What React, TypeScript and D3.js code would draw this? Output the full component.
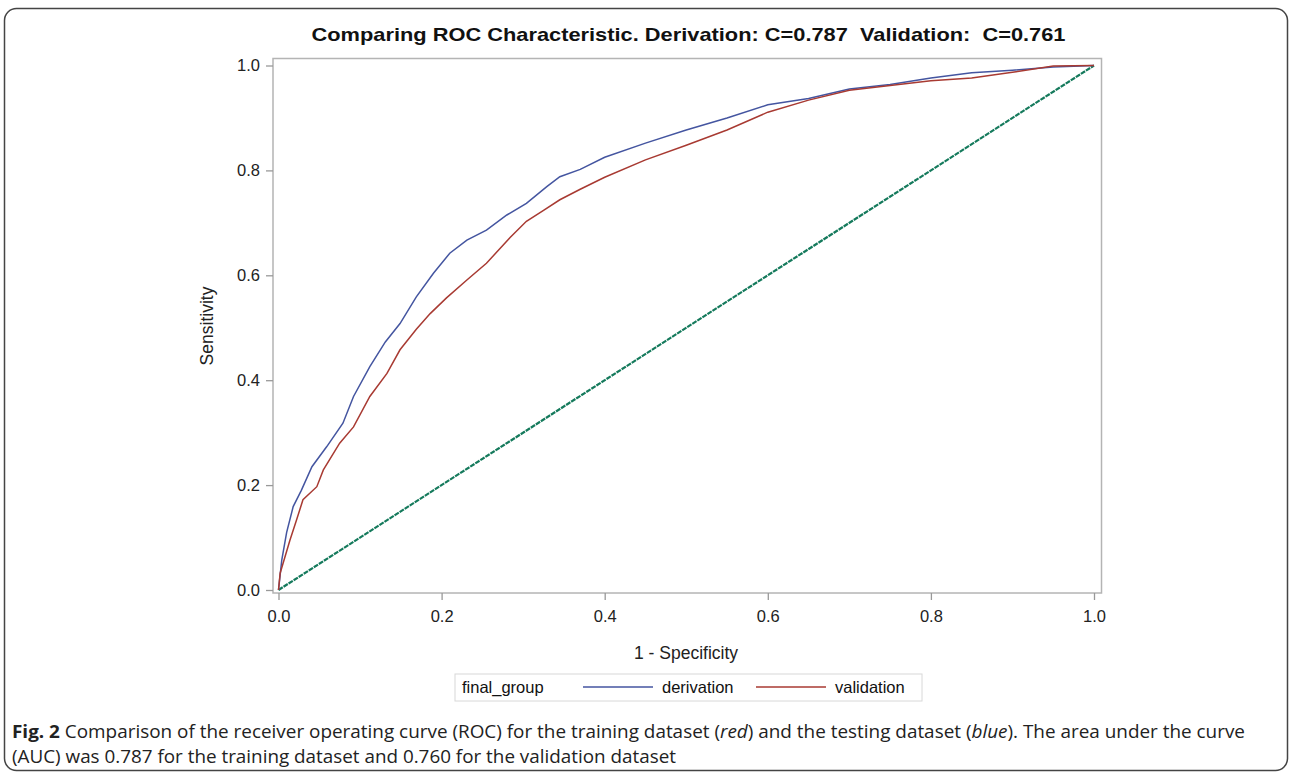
import * as d3 from "d3";
import { useEffect, useRef } from "react";

// ROC points: [1 - specificity, sensitivity]
const derivationFpr = [0, 0.004, 0.01, 0.018, 0.028, 0.041, 0.059, 0.079, 0.092, 0.112, 0.131, 0.149, 0.169, 0.19, 0.21, 0.231, 0.255, 0.28, 0.304, 0.329, 0.345, 0.37, 0.4, 0.45, 0.5, 0.55, 0.6, 0.65, 0.7, 0.75, 0.8, 0.85, 0.9, 0.95, 1];
const derivationTpr = [0, 0.057, 0.11, 0.159, 0.19, 0.235, 0.273, 0.318, 0.369, 0.426, 0.473, 0.508, 0.559, 0.604, 0.642, 0.667, 0.686, 0.715, 0.737, 0.769, 0.788, 0.802, 0.825, 0.852, 0.877, 0.9, 0.925, 0.937, 0.955, 0.964, 0.976, 0.986, 0.991, 0.997, 1];

const validationFpr = [0, 0.002, 0.014, 0.022, 0.03, 0.047, 0.055, 0.075, 0.092, 0.112, 0.133, 0.149, 0.169, 0.186, 0.206, 0.231, 0.255, 0.284, 0.304, 0.325, 0.345, 0.37, 0.4, 0.45, 0.5, 0.55, 0.6, 0.65, 0.7, 0.75, 0.8, 0.85, 0.9, 0.95, 1];
const validationTpr = [0, 0.032, 0.095, 0.133, 0.172, 0.197, 0.229, 0.28, 0.311, 0.369, 0.413, 0.458, 0.497, 0.527, 0.557, 0.591, 0.623, 0.672, 0.703, 0.724, 0.744, 0.764, 0.787, 0.82, 0.848, 0.877, 0.911, 0.934, 0.953, 0.962, 0.971, 0.976, 0.987, 0.999, 1];

const diagonal = [0, 1];
const ticks = [0, 0.2, 0.4, 0.6, 0.8, 1.0];

const title = "Comparing ROC Characteristic. Derivation: C=0.787  Validation:  C=0.761";
const legendTitle = "final_group";
const groups = ["derivation", "validation"];
const colors = ["#4455a0", "#a83a32"];

const App = () => {
  const svgRef = useRef<SVGSVGElement>(null);
  const width = 1292;
  const height = 774;

  useEffect(() => {
    const svg = d3.select(svgRef.current);
    svg.selectAll("*").remove();
    const font = "Liberation Sans, Arial, sans-serif";

    const x = d3.scaleLinear().domain([0, 1]).range([278.5, 1094]);
    const y = d3.scaleLinear().domain([0, 1]).range([590, 65.5]);

    // outer figure border
    svg.append("rect").attr("x", 4.5).attr("y", 8.5).attr("width", 1283).attr("height", 762)
      .attr("rx", 12).attr("fill", "white").attr("stroke", "#444").attr("stroke-width", 1.5);

    svg.append("text").text(title).attr("x", 688.5).attr("y", 41).attr("text-anchor", "middle")
      .style("white-space", "pre")
      .attr("font-family", font).attr("font-weight", "bold").attr("font-size", 18.5)
      .attr("textLength", 754).attr("lengthAdjust", "spacingAndGlyphs").attr("fill", "#111");

    // plot frame
    svg.append("rect").attr("x", 273).attr("y", 58.5).attr("width", 828.5).attr("height", 534.5)
      .attr("fill", "none").attr("stroke", "#b4b4b4").attr("stroke-width", 1.5);

    const yAxis = d3.axisLeft(y).tickValues(ticks).tickFormat(d3.format(".1f")).tickSize(7).tickPadding(6);
    const gy = svg.append("g").attr("transform", "translate(273,0)").call(yAxis);
    const xAxis = d3.axisBottom(x).tickValues(ticks).tickFormat(d3.format(".1f")).tickSize(7).tickPadding(10);
    const gx = svg.append("g").attr("transform", "translate(0,593)").call(xAxis);
    [gx, gy].forEach(g => {
      g.select(".domain").remove();
      g.selectAll("line").attr("stroke", "#999").attr("stroke-width", 1.3);
      g.selectAll("text").attr("font-family", font).attr("font-size", 16.5).attr("fill", "#222");
    });

    svg.append("text").text("1 - Specificity").attr("x", 686).attr("y", 659).attr("text-anchor", "middle")
      .attr("font-family", font).attr("font-size", 17.5).attr("fill", "#222");
    svg.append("text").text("Sensitivity").attr("transform", "translate(213,326) rotate(-90)").attr("text-anchor", "middle")
      .attr("font-family", font).attr("font-size", 17.5).attr("fill", "#222");

    const line = d3.line<[number, number]>().x(d => x(d[0])).y(d => y(d[1]));

    svg.append("path").attr("d", line(diagonal.map(v => [v, v]) as [number, number][]))
      .attr("fill", "none").attr("stroke", "#157a5c").attr("stroke-width", 2.2).attr("stroke-dasharray", "5 1");

    const series = [
      derivationFpr.map((v, i) => [v, derivationTpr[i]] as [number, number]),
      validationFpr.map((v, i) => [v, validationTpr[i]] as [number, number]),
    ];
    svg.selectAll(".roc").data(series).join("path").attr("class", "roc")
      .attr("d", d => line(d)).attr("fill", "none").attr("stroke", (d, i) => colors[i]).attr("stroke-width", 1.5);

    // legend
    const lg = svg.append("g");
    lg.append("rect").attr("x", 455).attr("y", 674).attr("width", 467).attr("height", 27)
      .attr("fill", "white").attr("stroke", "#d8d8d8");
    lg.append("text").text(legendTitle).attr("x", 462).attr("y", 693).attr("font-family", font).attr("font-size", 16.5).attr("fill", "#111");
    const starts = [583, 756];
    groups.forEach((g, i) => {
      lg.append("line").attr("x1", starts[i]).attr("x2", starts[i] + 70).attr("y1", 687).attr("y2", 687)
        .attr("stroke", colors[i]).attr("stroke-width", 1.5);
      lg.append("text").text(g).attr("x", starts[i] + 79).attr("y", 693).attr("font-family", font).attr("font-size", 16.5).attr("fill", "#111");
    });

    // caption
    const cap = svg.append("g").attr("font-family", "Open Sans, sans-serif").attr("font-size", 18).attr("fill", "#222");
    const l1 = cap.append("text").attr("x", 12).attr("y", 738).attr("textLength", 1233).attr("lengthAdjust", "spacingAndGlyphs");
    l1.append("tspan").attr("font-weight", "bold").text("Fig. 2");
    l1.append("tspan").text(" Comparison of the receiver operating curve (ROC) for the training dataset (");
    l1.append("tspan").attr("font-style", "italic").text("red");
    l1.append("tspan").text(") and the testing dataset (");
    l1.append("tspan").attr("font-style", "italic").text("blue");
    l1.append("tspan").text("). The area under the curve");
    cap.append("text").attr("x", 12).attr("y", 763).attr("textLength", 664).attr("lengthAdjust", "spacingAndGlyphs")
      .text("(AUC) was 0.787 for the training dataset and 0.760 for the validation dataset");
  }, []);

  return (
    <div>
      <svg ref={svgRef} width={width} height={height} style={{ position: "absolute", left: 0, top: 0 }}></svg>
    </div>
  );
};

export default App;
